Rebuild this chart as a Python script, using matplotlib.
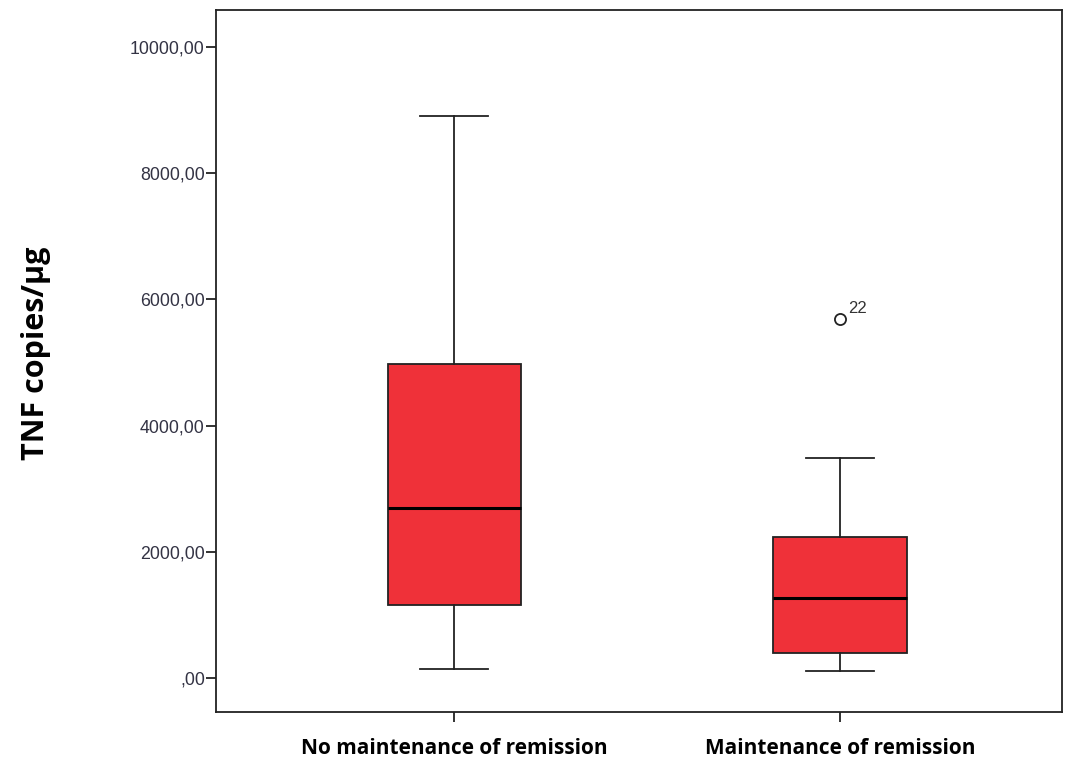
import matplotlib.pyplot as plt
from matplotlib.ticker import FuncFormatter

# Group labels
groups = ["No maintenance of remission", "Maintenance of remission"]

# Box statistics (TNF copies/ug)
whislo = [140, 110]
q1 = [1150, 395]
med = [2695, 1270]
q3 = [4975, 2235]
whishi = [8905, 3490]
outliers = [[], [5690]]
outlier_ids = [[], ["22"]]

stats = []
for i in range(len(groups)):
    stats.append(dict(whislo=whislo[i], q1=q1[i], med=med[i], q3=q3[i],
                      whishi=whishi[i], fliers=outliers[i], label=groups[i]))

fig = plt.figure(figsize=(10.67, 7.63), dpi=100)
ax = fig.add_axes([0.2024, 0.0668, 0.7929, 0.9201])

ax.bxp(stats, positions=[1, 2], widths=0.345, patch_artist=True,
       boxprops=dict(facecolor='#EF3139', edgecolor='#222222', linewidth=1.3),
       medianprops=dict(color='black', linewidth=2.2),
       whiskerprops=dict(color='#222222', linewidth=1.3),
       capprops=dict(color='#222222', linewidth=1.3),
       capwidths=0.175,
       flierprops=dict(marker='o', markersize=8, markerfacecolor='white',
                       markeredgecolor='#222222', markeredgewidth=1.3))

# outlier case numbers
for i in range(len(groups)):
    for v, lab in zip(outliers[i], outlier_ids[i]):
        ax.annotate(lab, (i + 1, v), xytext=(6, 4), textcoords='offset points',
                    fontsize=12, family='Liberation Sans', color='#333333')

ax.set_xlim(0.383, 2.575)
ax.set_ylim(-539, 10586)
ax.set_yticks([0, 2000, 4000, 6000, 8000, 10000])
ax.yaxis.set_major_formatter(FuncFormatter(
    lambda v, p: ',00' if v == 0 else f'{int(v)},00'))

for lbl in ax.get_yticklabels():
    lbl.set_family('Liberation Sans')
    lbl.set_fontsize(12.8)
    lbl.set_color('#333344')
ax.set_xticks([1, 2])
ax.set_xticklabels(groups, fontsize=15, fontweight='bold', family='Open Sans')
ax.tick_params(axis='both', direction='out', length=7, width=1.3, color='#222222')
ax.tick_params(axis='y', pad=1)
ax.tick_params(axis='x', pad=12)

for s in ax.spines.values():
    s.set_linewidth(1.3)
    s.set_color('#222222')

ax.set_ylabel('TNF copies/µg', fontsize=22, fontweight='bold', family='Open Sans')
ax.yaxis.set_label_coords(-0.195, 0.511)

fig.savefig('out.png', dpi=100)
